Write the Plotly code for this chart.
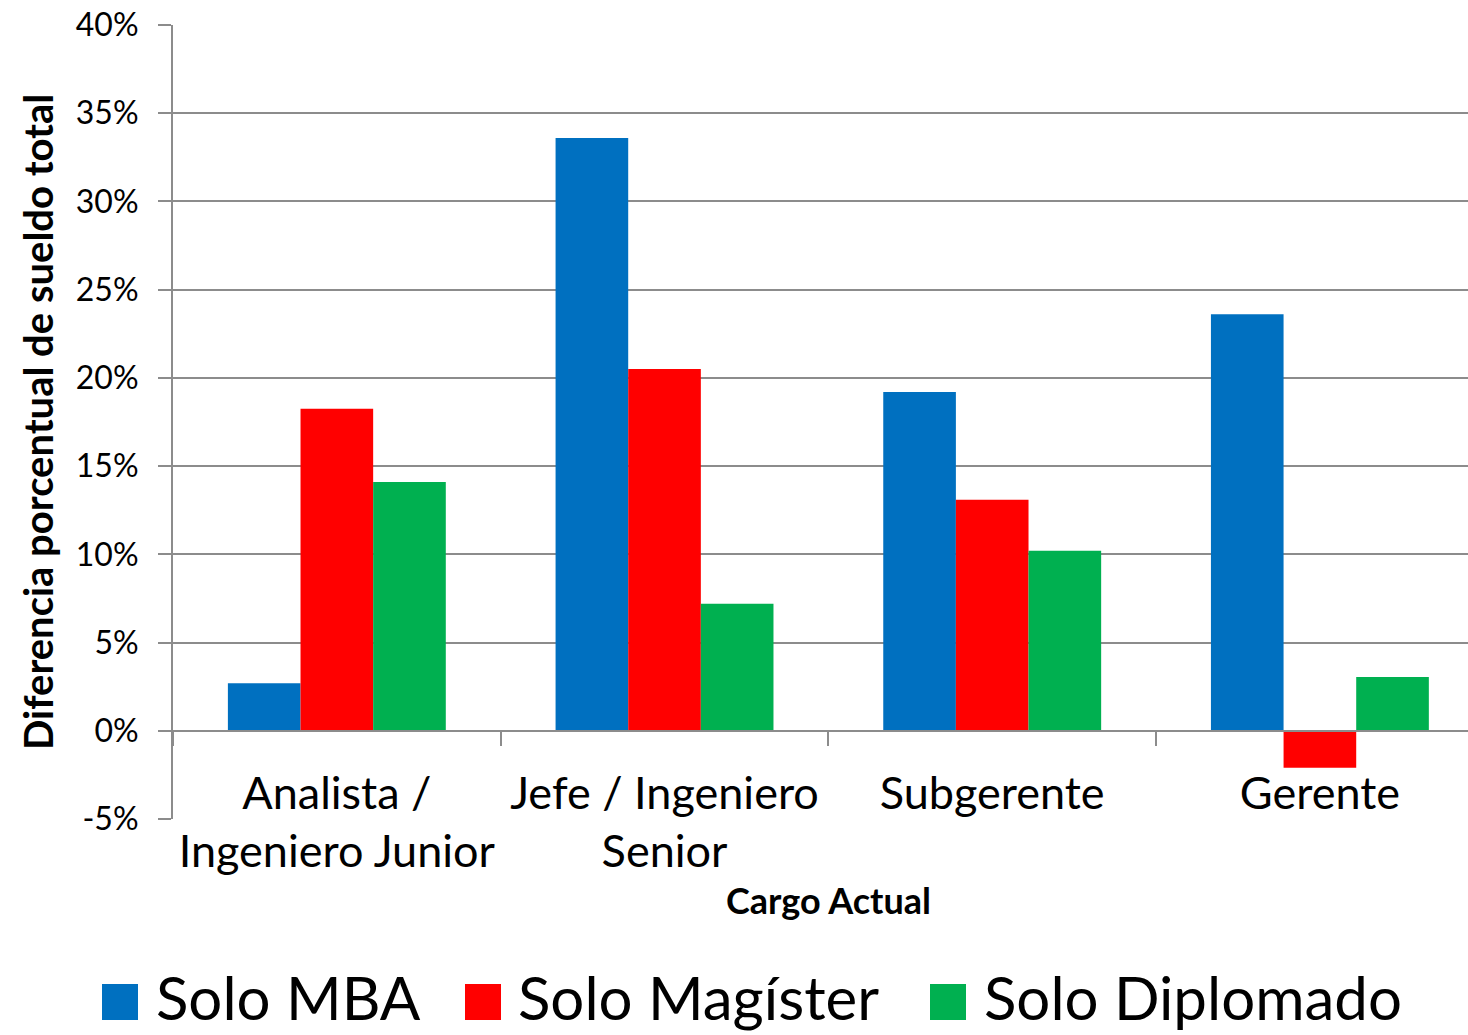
import plotly.graph_objects as go

cargos = ["Analista /<br>Ingeniero Junior", "Jefe / Ingeniero<br>Senior", "Subgerente", "Gerente"]
series_names = ["Solo MBA", "Solo Magíster", "Solo Diplomado"]
solo_mba = [2.7, 33.6, 19.2, 23.6]
solo_magister = [18.25, 20.5, 13.1, -2.1]
solo_diplomado = [14.1, 7.2, 10.2, 3.05]
colors = ["#0070C0", "#FF0000", "#00B050"]
y_tick_vals = [-5, 0, 5, 10, 15, 20, 25, 30, 35, 40]
y_tick_labels = ["-5%", "0%", "5%", "10%", "15%", "20%", "25%", "30%", "35%", "40%"]

W, H = 1468, 1035
L, R, T, B = 173, 1468, 25, 819
FONT = "Lato"
GRID = "#8c8c8c"


def px2x(px):
    return (px - L) / (R - L)


def px2y(py):
    return (B - py) / (B - T)


fig = go.Figure()
for name, vals, col in zip(series_names, [solo_mba, solo_magister, solo_diplomado], colors):
    fig.add_trace(go.Bar(x=cargos, y=vals, name=name, marker_color=col,
                         marker_line_width=0, showlegend=False))

fig.update_layout(
    width=W, height=H,
    margin=dict(l=L, r=W - R, t=T, b=H - B),
    paper_bgcolor="white", plot_bgcolor="white",
    barmode="group", bargap=0.335, bargroupgap=0,
    font=dict(family=FONT, color="black"),
)

fig.update_yaxes(
    range=[-5, 40], tickvals=y_tick_vals, ticktext=y_tick_labels,
    showgrid=True, gridcolor=GRID, gridwidth=2,
    zeroline=False, showline=True, linecolor=GRID, linewidth=2,
    ticks="outside", ticklen=13, tickwidth=2, tickcolor=GRID,
    tickfont=dict(size=32, family=FONT), ticklabelstandoff=13,
)

fig.update_xaxes(
    type="category", range=[-0.5, 3.452],
    anchor="free", position=5 / 45,
    showline=True, linecolor=GRID, linewidth=2,
    ticks="outside", tickson="boundaries", ticklen=14, tickwidth=2, tickcolor=GRID,
    tickfont=dict(size=45, family=FONT), ticklabelstandoff=23,
    showgrid=False,
)

annotations = [
    dict(text="<b>Cargo Actual</b>", x=px2x(828), y=px2y(900), xref="paper", yref="paper",
         showarrow=False, font=dict(size=36, family=FONT), xanchor="center", yanchor="middle"),
    dict(text="<b>Diferencia porcentual de sueldo total</b>", x=px2x(38), y=px2y(422),
         xref="paper", yref="paper", showarrow=False, textangle=-90,
         font=dict(size=40, family=FONT), xanchor="center", yanchor="middle"),
]

shapes = []
legend_sq = [102, 465, 930]
legend_tx = [154, 516, 982]
for name, col, sx, tx in zip(series_names, colors, legend_sq, legend_tx):
    shapes.append(dict(type="rect", xref="paper", yref="paper",
                       x0=px2x(sx), x1=px2x(sx + 36), y0=px2y(1020), y1=px2y(984),
                       fillcolor=col, line_width=0))
    annotations.append(dict(text=name, x=px2x(tx), y=px2y(997), xref="paper", yref="paper",
                            showarrow=False, xanchor="left", yanchor="middle",
                            font=dict(size=60, family=FONT)))

fig.update_layout(annotations=annotations, shapes=shapes)

fig.write_html("out.html", config={"displayModeBar": False},
               post_script="document.body.style.margin='0';")
